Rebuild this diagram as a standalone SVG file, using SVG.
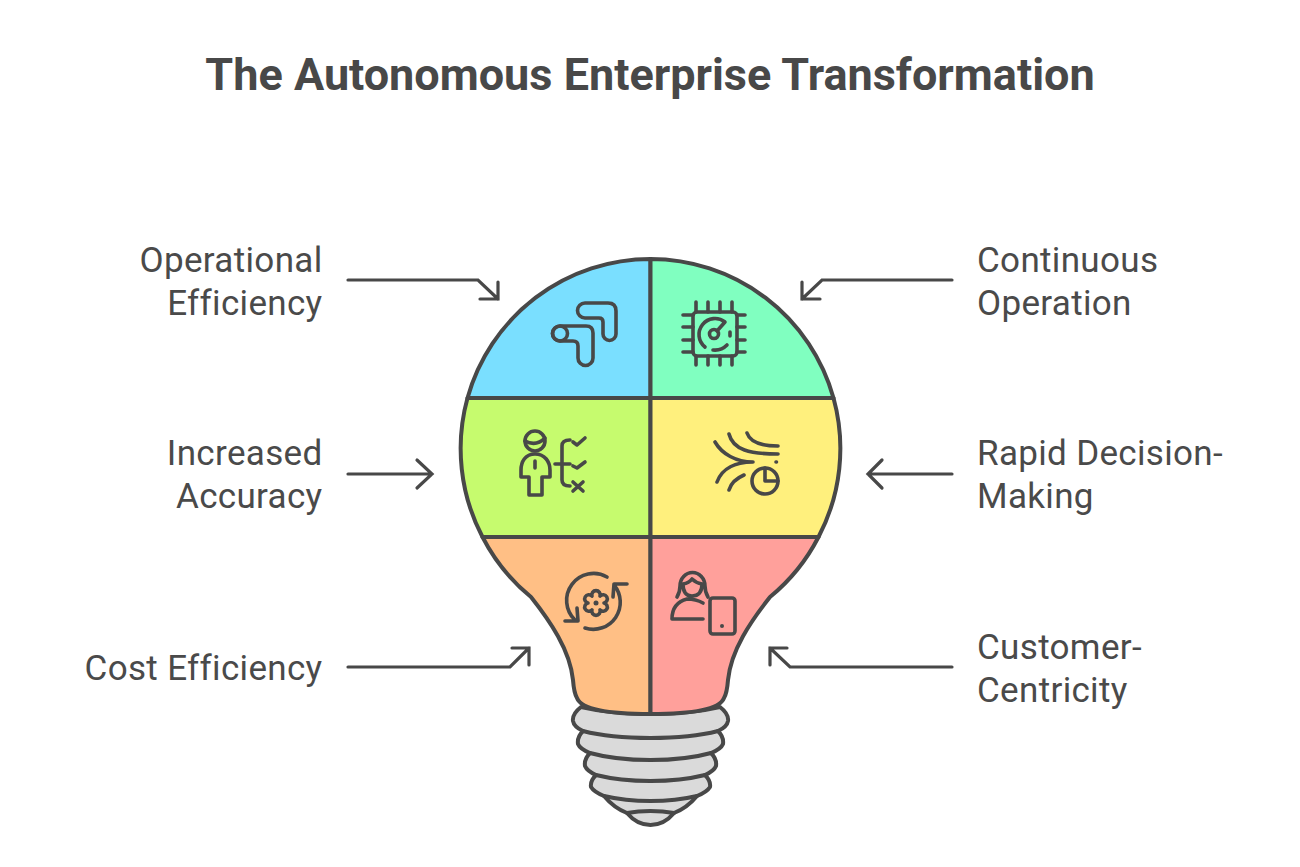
<svg xmlns="http://www.w3.org/2000/svg" width="1300" height="867" viewBox="0 0 1300 867">
<style>
.t{font-family:Roboto,"Liberation Sans",sans-serif;font-size:35px;fill:#4a4a4a;letter-spacing:.33px}
.e{text-anchor:end}
.title{font-family:Roboto,"Liberation Sans",sans-serif;font-size:45px;font-weight:700;fill:#484848;text-anchor:middle}
.s{stroke:#484848;stroke-width:4;stroke-linejoin:round;stroke-linecap:round}
.i{fill:none;stroke:#484848;stroke-width:3.6;stroke-linejoin:round;stroke-linecap:round}
.c{fill:none;stroke:#484848;stroke-width:3.2;stroke-linejoin:miter;stroke-linecap:round}
</style>
<rect width="1300" height="867" fill="#fff"/>
<text class="title" x="650" y="90">The Autonomous Enterprise Transformation</text>

<g id="bulb-base">
<path class="s" fill="#dadada" d="M581 707 Q572 714 573 721 Q574 727 583 731 Q577 737 578 744 Q580 749 590 753 Q584 759 585 766 Q587 771 596 775 Q590 781 591 787 Q594 792 604 796 Q614 808 627 813 Q637 825 650.500 825 Q664 825 674 813 Q687 808 697 796 Q707 792 710 787 Q711 781 705 775 Q714 771 716 766 Q717 759 711 753 Q721 749 723 744 Q724 737 718 731 Q727 727 728 721 Q729 714 720 707 Q690 714 650.500 714 Q611 714 581 707Z"/>
<path class="i" style="stroke-width:4" d="M583 731 Q610 738 650.500 738 Q691 738 718 731M590 753 Q615 760 650.500 760 Q686 760 711 753M596 775 Q620 781 650.500 781 Q681 781 705 775M604 796 Q625 801 650.500 801 Q676 801 697 796M627 813 Q638 811 650.500 811 Q663 811 674 813"/>
</g>

<g id="segment-operational-efficiency">
<path class="s" fill="#7adfff" d="M650.500 259 A190 190 0 0 0 467.500 398 H650.500Z"/>
<g class="icon">
<path class="i" d="M585 303 H608 Q616 303 616 311 V334 A6.500 6.500 0 0 1 603 334 V322 Q603 318 599 318 H585 A7.500 7.500 0 0 1 585 303Z"/>
<path class="i" d="M560 326 H586 Q593 326 593 333 V358 A7.500 7.500 0 0 1 578 358 V346 Q578 341 573 341 H560 A7.500 7.500 0 0 1 560 326Z"/>
<circle class="i" cx="560" cy="333.500" r="7.500"/>
</g>
</g>

<g id="segment-continuous-operation">
<path class="s" fill="#80ffc0" d="M650.500 259 A190 190 0 0 1 833.500 398 H650.500Z"/>
<g class="icon">
<rect class="i" x="693" y="312" width="44" height="44" rx="4"/>
<path class="i" d="M696 302V312M708 302V312M720 302V312M732 302V312M696 356V365M708 356V365M720 356V365M732 356V365M683 315H693M683 327H693M683 340H693M683 352H693M737 315H745M737 327H745M737 340H745M737 352H745"/>
<circle class="i" cx="714" cy="334" r="4.500"/>
<path class="i" d="M717 331L725 322A16 16 0 0 0 705 347M713 350A17 17 0 0 0 727 345M730 332V336"/>
</g>
</g>

<g id="segment-increased-accuracy">
<path class="s" fill="#c6fb6e" d="M467.500 398 A190 190 0 0 0 482.500 537 H650.500 V398Z"/>
<g class="icon">
<circle class="i" cx="535" cy="441" r="10"/>
<path class="i" d="M525 441 Q536 447 545 438"/>
<path class="i" d="M535 454 C525 454 521 462 521 470 V477 H529 V495 H542 V477 H550 V470 C550 462 545 454 535 454Z"/>
<path class="i" d="M535 461V468M570 440 Q562 440 562 446 V480 Q562 486 570 486M555 464H570M573 442L577 445L585 438M573 466L577 468L585 462M573 482L583 491M583 482L573 491"/>
</g>
</g>

<g id="segment-rapid-decision-making">
<path class="s" fill="#fff07d" d="M833.500 398 A190 190 0 0 1 818.500 537 H650.500 V398Z"/>
<g class="icon">
<path class="i" d="M715 442 C722 454 736 462 753 462 C736 462 722 468 717 482M729 434 C733 450 750 454 778 454M747 433 C750 442 760 446 778 446M776 462H776.500M729 490 C731 483 737 478 744 475"/>
<circle class="i" cx="765" cy="481" r="13"/>
<path class="i" d="M765 468V481H778"/>
</g>
</g>

<g id="segment-cost-efficiency">
<path class="s" fill="#ffbf85" d="M482.500 537 A190 190 0 0 0 531 597 C550 621 570 650 573 680 Q574 693 577 698 Q583 714 650.500 714 V537Z"/>
<g class="icon">
<path class="i" d="M607 577A27 27 0 0 0 575 620M585 628A27 27 0 0 0 614 585M565 621H578L577 608M627 584H614L613 597"/>
<path class="i" d="M592 596.100A4.200 4.200 0 1 1 600 596.100A4.200 4.200 0 1 1 604 603A4.200 4.200 0 1 1 600 609.900A4.200 4.200 0 1 1 592 609.900A4.200 4.200 0 1 1 588 603A4.200 4.200 0 1 1 592 596.100Z"/>
<circle cx="596" cy="603" r="2.500" fill="#484848"/>
</g>
</g>

<g id="segment-customer-centricity">
<path class="s" fill="#ffa09b" d="M818.500 537 A190 190 0 0 1 770 597 C751 621 731 650 728 680 Q727 693 724 698 Q718 714 650.500 714 V537Z"/>
<g class="icon">
<path class="i" d="M677 597 Q680 592 680 586 A12.500 13.500 0 0 1 705 586 Q705 592 708 597M683 584 Q689 583 692 579 Q696 583 702 584M683 584 Q683 596 692 596 Q702 596 702 584M703 603 Q696 599 687 599 Q672 603 672 619 H703"/>
<rect class="i" x="710" y="598" width="25" height="36" rx="3"/>
<circle cx="722" cy="626" r="2" fill="#484848"/>
</g>
</g>

<g id="connectors">
<path class="c" d="M348 280H478L498 299M498 282V299H480"/>
<path class="c" d="M952 280H822L802 299M802 282V299H820"/>
<path class="c" d="M348 474H432M417 460L432 474L417 488"/>
<path class="c" d="M952 474H868M882 460L868 474L882 488"/>
<path class="c" d="M348 667H510L529 648M512 648H529V665"/>
<path class="c" d="M952 667H790L770 648M787 648H770V665"/>
</g>

<g id="labels">
<text class="t e" x="322.500" y="271.500">Operational</text>
<text class="t e" x="322.500" y="314.500">Efficiency</text>
<text class="t" x="977" y="271.500">Continuous</text>
<text class="t" x="977" y="314.500">Operation</text>
<text class="t e" x="322.500" y="464.500">Increased</text>
<text class="t e" x="322.500" y="507.500">Accuracy</text>
<text class="t" x="977" y="464.500">Rapid Decision-</text>
<text class="t" x="977" y="507.500">Making</text>
<text class="t e" x="322.500" y="679.500">Cost Efficiency</text>
<text class="t" x="977" y="658.500">Customer-</text>
<text class="t" x="977" y="701.500">Centricity</text>
</g>
</svg>
